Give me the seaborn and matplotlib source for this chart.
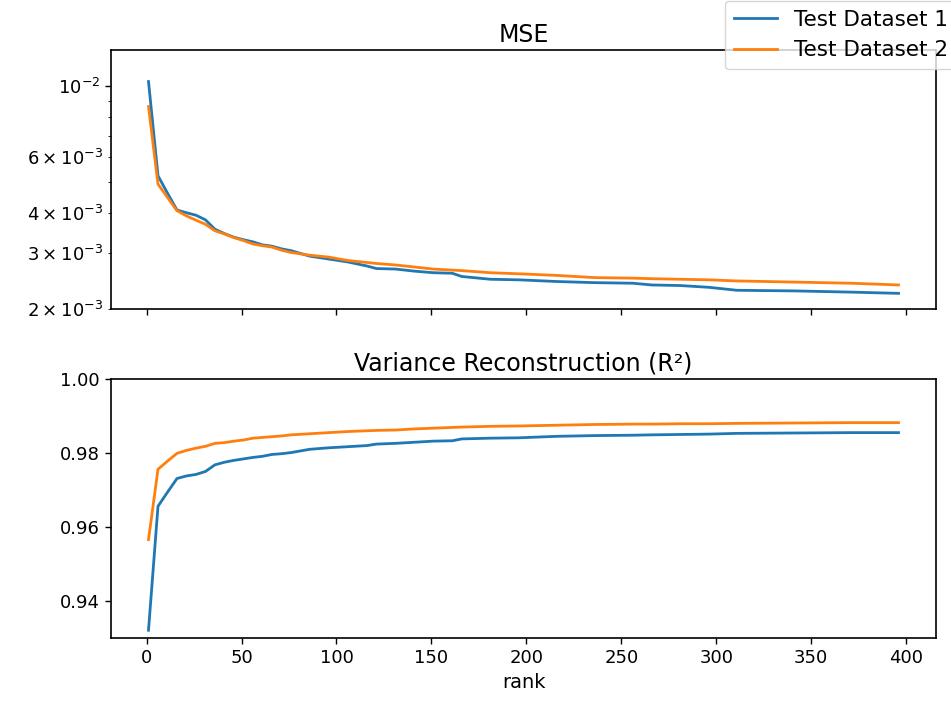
import numpy as np
import pandas as pd
import matplotlib
matplotlib.use("Agg")
import matplotlib.pyplot as plt
import seaborn as sns

ranks = [1, 6, 11, 16, 21, 26, 31, 36, 41, 46, 51, 56, 61, 66, 71, 76, 86, 96,
         106, 116, 121, 131, 141, 151, 161, 166, 181, 196, 216, 236, 256, 266,
         281, 296, 311, 341, 371, 396]

mse_ds1 = [0.01035, 0.00524, 0.00462, 0.00409, 0.00401, 0.00394, 0.00381, 0.00356,
           0.00345, 0.00336, 0.00330, 0.00325, 0.00318, 0.00315, 0.00309, 0.00305,
           0.00293, 0.00287, 0.00281, 0.00273, 0.00268, 0.00267, 0.00263, 0.00260,
           0.00259, 0.00253, 0.00248, 0.00247, 0.00244, 0.00242, 0.00241, 0.00238,
           0.00237, 0.00234, 0.00229, 0.00228, 0.00226, 0.00224]
mse_ds2 = [0.00864, 0.00493, 0.00448, 0.00407, 0.00392, 0.00380, 0.00369, 0.00352,
           0.00344, 0.00335, 0.00328, 0.00320, 0.00316, 0.00313, 0.00306, 0.00301,
           0.00295, 0.00291, 0.00284, 0.00280, 0.00278, 0.00275, 0.00271, 0.00267,
           0.00265, 0.00264, 0.00260, 0.00258, 0.00255, 0.00251, 0.00250, 0.00249,
           0.00248, 0.00247, 0.00245, 0.00243, 0.00241, 0.00238]

r2_ds1 = [0.9321, 0.9656, 0.9694, 0.9731, 0.9738, 0.9742, 0.9750, 0.9768,
          0.9775, 0.9780, 0.9784, 0.9788, 0.9791, 0.9796, 0.9798, 0.9801,
          0.9810, 0.9814, 0.9817, 0.9820, 0.9824, 0.9826, 0.9829, 0.9832,
          0.9833, 0.9838, 0.9840, 0.9841, 0.9845, 0.9847, 0.9848, 0.9849,
          0.9850, 0.9851, 0.9853, 0.9854, 0.9855, 0.9855]
r2_ds2 = [0.9566, 0.9756, 0.9778, 0.9799, 0.9807, 0.9813, 0.9818, 0.9826,
          0.9828, 0.9832, 0.9835, 0.9840, 0.9842, 0.9844, 0.9846, 0.9849,
          0.9852, 0.9855, 0.9858, 0.9860, 0.9861, 0.9862, 0.9865, 0.9867,
          0.9869, 0.9870, 0.9872, 0.9873, 0.9875, 0.9877, 0.9878, 0.9878,
          0.9879, 0.9879, 0.9880, 0.9881, 0.9882, 0.9882]

series_names = ["Test Dataset 1", "Test Dataset 2"]
colors = ["#1f77b4", "#ff7f0e"]

df = pd.DataFrame({
    "rank": ranks * 2,
    "mse": mse_ds1 + mse_ds2,
    "r2": r2_ds1 + r2_ds2,
    "dataset": [series_names[0]] * len(ranks) + [series_names[1]] * len(ranks),
})

plt.rcParams["xtick.labelsize"] = 13
plt.rcParams["ytick.labelsize"] = 13
plt.rcParams["lines.linewidth"] = 2.0

fig, (ax1, ax2) = plt.subplots(2, 1, sharex=True, figsize=(9.51, 7.04), dpi=100)
fig.subplots_adjust(left=111 / 951, right=936 / 951, top=1 - 50 / 704,
                    bottom=1 - 638 / 704, hspace=0.27)

sns.lineplot(data=df, x="rank", y="mse", hue="dataset", hue_order=series_names,
             palette=colors, ax=ax1, legend=False)
sns.lineplot(data=df, x="rank", y="r2", hue="dataset", hue_order=series_names,
             palette=colors, ax=ax2, legend=False)

ax1.set_yscale("log")
ax1.set_ylim(2e-3, 1.3e-2)
ax1.set_title("MSE", fontsize=17)
ax1.set_xlabel("")
ax1.set_ylabel("")

ax2.set_ylim(0.93, 1.0)
ax2.set_yticks([0.94, 0.96, 0.98, 1.00])
ax2.set_title("Variance Reconstruction (R²)", fontsize=17)
ax2.set_xlabel("rank", fontsize=14)
ax2.set_ylabel("")
ax2.set_xticks([0, 50, 100, 150, 200, 250, 300, 350, 400])

for ax in (ax1, ax2):
    ax.tick_params(which="major", length=4.5, width=1)
    for s in ax.spines.values():
        s.set_linewidth(1.2)

handles = ax1.get_lines()[:2]
fig.legend(handles, series_names, loc="upper left",
           bbox_to_anchor=(725 / 951, 1 - 1 / 704), fontsize=15.5,
           handlelength=2.0, borderaxespad=0.0)

fig.savefig("out.png", dpi=100)
